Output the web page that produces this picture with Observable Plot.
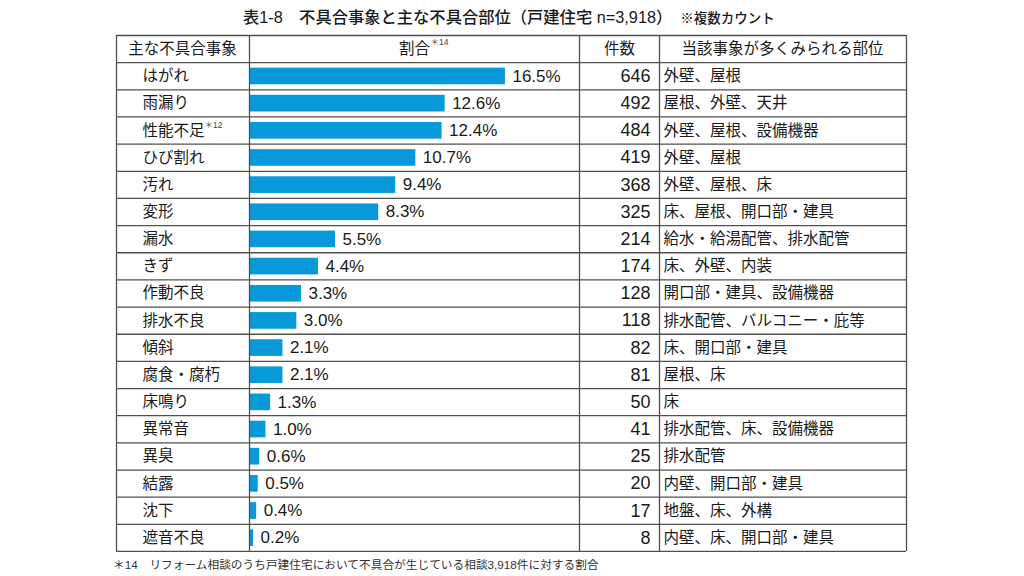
<!DOCTYPE html>
<html>
<head>
<meta charset="utf-8">
<script src="https://cdn.jsdelivr.net/npm/d3@7"></script>
<script src="https://cdn.jsdelivr.net/npm/@observablehq/plot@0.6"></script>
<style>
  html, body { margin: 0; padding: 0; background: #fff; }
  body { width: 1024px; height: 576px; overflow: hidden; font-family: "Liberation Sans", "Noto Sans CJK JP", sans-serif; color: #222; }
  #title { height: 34px; line-height: 34px; position: relative; white-space: nowrap; }
  #title .main { position: absolute; left: 243px; top: 0; font-size: 16.3px; font-weight: 500; color: #1a1a1a; }
  #title .sub { font-size: 13.5px; font-weight: 500; margin-left: 8px; }
  #chart svg { display: block; }
  #foot { position: relative; height: 24px; line-height: 24px; font-size: 11.7px; color: #333; white-space: nowrap; }
  #foot span { position: absolute; left: 113px; top: 1px; }
</style>
</head>
<body>
<div id="title"><span class="main">表1-8　不具合事象と主な不具合部位（戸建住宅 n=3,918）<span class="sub">※複数カウント</span></span></div>
<div id="chart"></div>
<div id="foot"><span>＊14　リフォーム相談のうち戸建住宅において不具合が生じている相談3,918件に対する割合</span></div>
<script>
// ---- data ----
const events = ["はがれ","雨漏り","性能不足","ひび割れ","汚れ","変形","漏水","きず","作動不良","排水不良","傾斜","腐食・腐朽","床鳴り","異常音","異臭","結露","沈下","遮音不良"];
const notes = ["","","＊12","","","","","","","","","","","","","","",""];
const pct = [16.5,12.6,12.4,10.7,9.4,8.3,5.5,4.4,3.3,3.0,2.1,2.1,1.3,1.0,0.6,0.5,0.4,0.2];
const counts = [646,492,484,419,368,325,214,174,128,118,82,81,50,41,25,20,17,8];
const locations = ["外壁、屋根","屋根、外壁、天井","外壁、屋根、設備機器","外壁、屋根","外壁、屋根、床","床、屋根、開口部・建具","給水・給湯配管、排水配管","床、外壁、内装","開口部・建具、設備機器","排水配管、バルコニー・庇等","床、開口部・建具","屋根、床","床","排水配管、床、設備機器","排水配管","内壁、開口部・建具","地盤、床、外構","内壁、床、開口部・建具"];
const headers = ["主な不具合事象","割合","件数","当該事象が多くみられる部位"];
const headerNote = "＊14";

// table built from the arrays (row 0 = header, rows 1..18 = data)
const rows = events.map((e, i) => ({row: i + 1, event: e, note: notes[i], pct: pct[i], count: counts[i], loc: locations[i]}));
const nRows = rows.length + 1;

const cjk = "Liberation Sans, Noto Sans CJK JP, sans-serif";
const lineColor = "#505050";
const barColor = "#0899da";

const plot = Plot.plot({
  width: 1024,
  height: 518,
  marginLeft: 116,
  marginRight: 118,
  marginTop: 1,
  marginBottom: 1,
  x: {domain: [0, 20], range: [250, 559], axis: null},
  y: {domain: [0, nRows], reverse: true, axis: null},
  style: {fontFamily: cjk, color: "#222", background: "#fff"},
  marks: [
    // bars
    Plot.rect(rows, {x1: 0, x2: "pct", y1: d => d.row, y2: d => d.row + 1, insetTop: 5.5, insetBottom: 5, fill: barColor}),
    // horizontal lines
    Plot.ruleY(d3.range(0, nRows + 1), {stroke: lineColor, strokeWidth: 1.3}),
    // vertical lines
    Plot.ruleX([0], {y1: 0, y2: nRows, dx: -134, stroke: lineColor, strokeWidth: 1.3}),
    Plot.ruleX([0], {y1: 0, y2: nRows, dx: -1, stroke: lineColor, strokeWidth: 1.3}),
    Plot.ruleX([0], {y1: 0, y2: nRows, dx: 329, stroke: lineColor, strokeWidth: 1.3}),
    Plot.ruleX([0], {y1: 0, y2: nRows, dx: 409, stroke: lineColor, strokeWidth: 1.3}),
    Plot.ruleX([0], {y1: 0, y2: nRows, dx: 656, stroke: lineColor, strokeWidth: 1.3}),
    // header texts
    Plot.text([headers[0]], {text: d => d, y: 0.5, frameAnchor: "left", dx: 66, textAnchor: "middle", fontSize: 15.5, fill: "#1a1a1a"}),
    Plot.text([headers[1]], {text: d => d, y: 0.5, frameAnchor: "left", dx: 298, textAnchor: "middle", fontSize: 15.5, fill: "#1a1a1a"}),
    Plot.text([headerNote], {text: d => d, y: 0.5, frameAnchor: "left", dx: 314, dy: -7, textAnchor: "start", fontSize: 8.5, fill: "#444"}),
    Plot.text([headers[2]], {text: d => d, y: 0.5, frameAnchor: "right", dx: -287, textAnchor: "middle", fontSize: 15.5, fill: "#1a1a1a"}),
    Plot.text([headers[3]], {text: d => d, y: 0.5, frameAnchor: "right", dx: -124, textAnchor: "middle", fontSize: 15.5, fill: "#1a1a1a"}),
    // event names
    Plot.text(rows, {text: "event", y: d => d.row + 0.5, frameAnchor: "left", dx: 26, textAnchor: "start", fontSize: 15.5, fill: "#1a1a1a"}),
    Plot.text(rows.filter(d => d.note), {text: "note", y: d => d.row + 0.5, frameAnchor: "left", dx: 88, dy: -5, textAnchor: "start", fontSize: 8.5, fill: "#444"}),
    // percent labels
    Plot.text(rows, {x: "pct", y: d => d.row + 0.5, text: d => d.pct.toFixed(1) + "%", dx: 7, textAnchor: "start", fontSize: 17, fill: "#1a1a1a"}),
    // counts
    Plot.text(rows, {text: d => String(d.count), y: d => d.row + 0.5, frameAnchor: "right", dx: -256, textAnchor: "end", fontSize: 18, fill: "#1a1a1a"}),
    // locations
    Plot.text(rows, {text: "loc", y: d => d.row + 0.5, frameAnchor: "right", dx: -243, textAnchor: "start", fontSize: 15.5, fill: "#1a1a1a"})
  ]
});
document.getElementById("chart").appendChild(plot);
</script>
</body>
</html>
